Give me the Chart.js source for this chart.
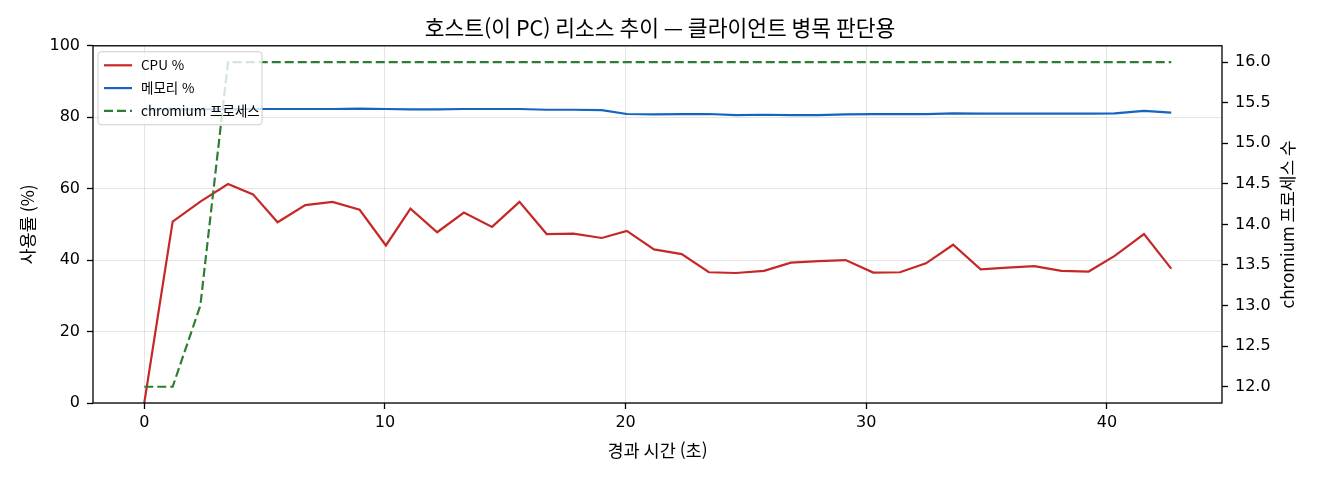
<!DOCTYPE html>
<html lang="ko">
<head>
<meta charset="utf-8">
<title>호스트 리소스 추이</title>
<script src="https://cdn.jsdelivr.net/npm/chart.js@4.4.1/dist/chart.umd.min.js"></script>
<style>
  html, body { margin: 0; padding: 0; background: #fff; }
  #wrap { width: 1320px; height: 480px; position: relative; }
</style>
</head>
<body>
<div id="wrap"><canvas id="hostChart"></canvas></div>
<script>
/* global Chart */

// 경과 시간 (초)
const elapsed = [0, 1.18, 2.33, 3.48, 4.52, 5.54, 6.69, 7.82, 8.95, 10.04,
  11.06, 12.17, 13.28, 14.45, 15.59, 16.72, 17.83, 19.01, 20.05, 21.18,
  22.33, 23.46, 24.58, 25.75, 26.87, 28.01, 29.14, 30.29, 31.40, 32.48,
  33.61, 34.75, 35.86, 36.98, 38.11, 39.24, 40.32, 41.54, 42.67];

const cpuPct = [0, 50.8, 56.4, 61.3, 58.4, 50.6, 55.4, 56.3, 54.1, 44.1,
  54.4, 47.8, 53.3, 49.3, 56.3, 47.3, 47.4, 46.2, 48.2, 43.0,
  41.7, 36.6, 36.4, 37.0, 39.3, 39.7, 40.0, 36.5, 36.6, 39.1,
  44.3, 37.4, 37.9, 38.3, 37.0, 36.8, 41.2, 47.3, 37.6];

const memPct = [82.2, 82.2, 82.2, 82.2, 82.3, 82.3, 82.3, 82.3, 82.4, 82.3,
  82.2, 82.2, 82.3, 82.3, 82.3, 82.1, 82.1, 82.0, 80.9, 80.8,
  80.9, 80.9, 80.6, 80.7, 80.6, 80.6, 80.8, 80.9, 80.9, 80.9,
  81.1, 81.0, 81.0, 81.0, 81.0, 81.0, 81.1, 81.8, 81.3];

const chromiumProcs = [12, 12, 13, 16, 16, 16, 16, 16, 16, 16,
  16, 16, 16, 16, 16, 16, 16, 16, 16, 16,
  16, 16, 16, 16, 16, 16, 16, 16, 16, 16,
  16, 16, 16, 16, 16, 16, 16, 16, 16];

const xTicks = [0, 10, 20, 30, 40];
const leftTicks = [0, 20, 40, 60, 80, 100];
const rightTicks = [12.0, 12.5, 13.0, 13.5, 14.0, 14.5, 15.0, 15.5, 16.0];

const FONT = '"Noto Sans CJK KR", "Noto Sans", sans-serif';
const NUM_FONT = '"DejaVu Sans", "Noto Sans CJK KR", sans-serif';
const GRID = 'rgba(0,0,0,0.1)';

function points(ys) {
  return elapsed.map((t, i) => ({ x: t, y: ys[i] }));
}

// 축 테두리 (위쪽 포함)
const framePlugin = {
  id: 'frame',
  afterDatasetsDraw(chart) {
    const { ctx, chartArea: a } = chart;
    ctx.save();
    ctx.strokeStyle = '#000';
    ctx.lineWidth = 1.3;
    ctx.strokeRect(a.left, a.top, a.right - a.left, a.bottom - a.top);
    ctx.restore();
  }
};

// 오른쪽 축 제목 (아래에서 위로 읽힘)
const rightTitlePlugin = {
  id: 'rightTitle',
  afterDraw(chart) {
    const { ctx, chartArea: a } = chart;
    ctx.save();
    ctx.translate(1288, (a.top + a.bottom) / 2);
    ctx.rotate(-Math.PI / 2);
    ctx.font = '17px ' + FONT;
    ctx.fillStyle = '#000';
    ctx.textAlign = 'center';
    ctx.textBaseline = 'middle';
    ctx.fillText('chromium 프로세스 수', 0, 0);
    ctx.restore();
  }
};

// 차트 안쪽 왼쪽 위 범례
const innerLegendPlugin = {
  id: 'innerLegend',
  afterDraw(chart) {
    const { ctx, chartArea: a } = chart;
    const items = [0, 1, 2].map(i => chart.data.datasets[i]);
    const x0 = a.left + 5, y0 = a.top + 6, w = 164, h = 73;
    ctx.save();
    ctx.beginPath();
    ctx.roundRect(x0, y0, w, h, 3);
    ctx.fillStyle = 'rgba(255,255,255,0.8)';
    ctx.fill();
    ctx.strokeStyle = '#cccccc';
    ctx.lineWidth = 1;
    ctx.stroke();
    ctx.font = '13.5px ' + FONT;
    ctx.textBaseline = 'middle';
    items.forEach((ds, i) => {
      const y = y0 + 13.5 + i * 22.8;
      ctx.beginPath();
      ctx.setLineDash(ds.borderDash || []);
      ctx.strokeStyle = ds.borderColor;
      ctx.lineWidth = ds.borderWidth;
      ctx.moveTo(x0 + 6, y);
      ctx.lineTo(x0 + 34, y);
      ctx.stroke();
      ctx.setLineDash([]);
      ctx.fillStyle = '#000';
      ctx.fillText(ds.label, x0 + 43, y);
    });
    ctx.restore();
  }
};

new Chart(document.getElementById('hostChart'), {
  type: 'line',
  data: {
    datasets: [
      {
        label: 'CPU %',
        data: points(cpuPct),
        borderColor: '#c62828',
        borderWidth: 2.2,
        yAxisID: 'y',
        order: 2
      },
      {
        label: '메모리 %',
        data: points(memPct),
        borderColor: '#1565c0',
        borderWidth: 2.2,
        yAxisID: 'y',
        order: 1
      },
      {
        label: 'chromium 프로세스',
        data: points(chromiumProcs),
        borderColor: '#2e7d32',
        borderWidth: 2.2,
        borderDash: [9, 4],
        yAxisID: 'y1',
        order: 0
      }
    ]
  },
  options: {
    responsive: true,
    maintainAspectRatio: false,
    animation: false,
    elements: { point: { radius: 0 }, line: { tension: 0, fill: false } },
    layout: { padding: { left: 0, right: 0, top: 0, bottom: 0 } },
    plugins: {
      legend: { display: false },
      tooltip: { enabled: false },
      title: {
        display: true,
        text: '호스트(이 PC) 리소스 추이 — 클라이언트 병목 판단용',
        color: '#000',
        font: { family: FONT, size: 21.5, weight: 'normal' },
        padding: { top: 15, bottom: 5 }
      }
    },
    scales: {
      x: {
        type: 'linear',
        min: -2.13,
        max: 44.78,
        afterBuildTicks: s => { s.ticks = xTicks.map(v => ({ value: v })); },
        afterFit: s => { s.height = 77; },
        ticks: { color: '#000', font: { family: NUM_FONT, size: 16 }, padding: 4, maxRotation: 0 },
        grid: { color: GRID, lineWidth: 1, tickColor: '#000', tickLength: 6, tickWidth: 1.3 },
        border: { display: false },
        title: {
          display: true,
          text: '경과 시간 (초)',
          color: '#000',
          font: { family: FONT, size: 17.5 },
          padding: { top: 0, bottom: 19 }
        }
      },
      y: {
        position: 'left',
        min: 0,
        max: 100,
        afterBuildTicks: s => { s.ticks = leftTicks.map(v => ({ value: v })); },
        afterFit: s => { s.width = 93; },
        ticks: { color: '#000', font: { family: NUM_FONT, size: 16 }, padding: 7 },
        grid: { color: GRID, lineWidth: 1, tickColor: '#000', tickLength: 6, tickWidth: 1.3 },
        border: { display: false },
        title: {
          display: true,
          text: '사용률 (%)',
          color: '#000',
          font: { family: FONT, size: 17.5 },
          padding: { top: 17, bottom: 0 }
        }
      },
      y1: {
        position: 'right',
        min: 11.8,
        max: 16.2,
        afterBuildTicks: s => { s.ticks = rightTicks.map(v => ({ value: v })); },
        afterFit: s => { s.width = 98; },
        ticks: {
          color: '#000',
          font: { family: NUM_FONT, size: 16 },
          padding: 7,
          callback: v => Number(v).toFixed(1)
        },
        grid: { drawOnChartArea: false, tickColor: '#000', tickLength: 6, tickWidth: 1.3 },
        border: { display: false }
      }
    }
  },
  plugins: [framePlugin, rightTitlePlugin, innerLegendPlugin]
});
</script>
</body>
</html>
